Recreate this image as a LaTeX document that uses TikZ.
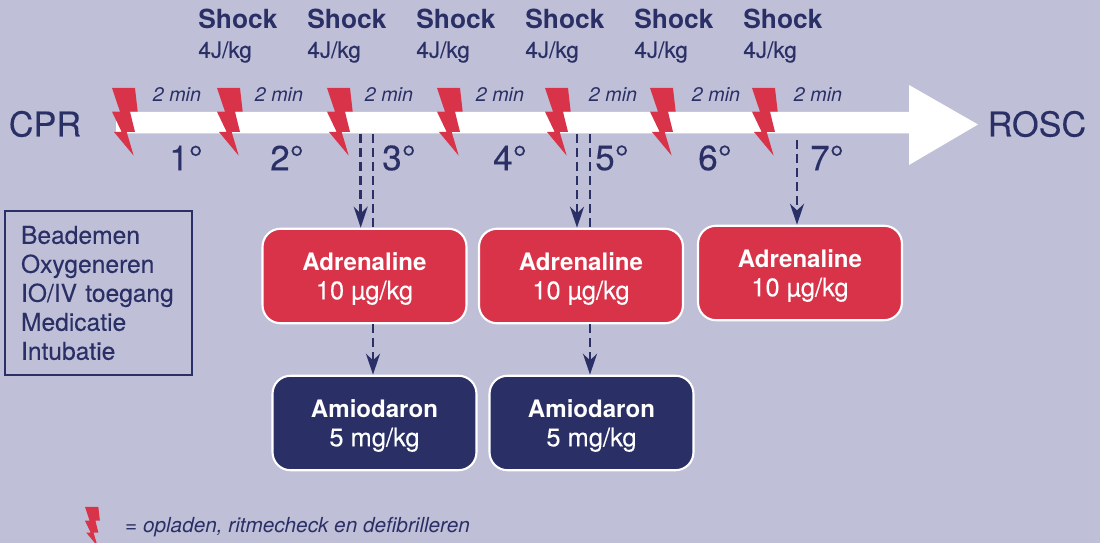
\documentclass[tikz,border=0pt]{standalone}
\usepackage{fontspec}
\setmainfont{TeX Gyre Heros}
\newfontfamily\medfont[FakeBold=0.15]{TeX Gyre Heros}
\usepackage{xcolor}
\usetikzlibrary{arrows.meta}
\definecolor{navy}{HTML}{2A2F66}
\definecolor{boltRed}{HTML}{D93349}
\definecolor{paleBack}{HTML}{BFC0D7}
\newcommand{\doseText}[2]{\rule{0pt}{13.2pt}{\normalfont\fontsize{13.7}{16.5}\selectfont\textbf{#1}}\\#2}

\begin{document}
\begin{tikzpicture}[
        x=0.02cm, y=-0.02cm,
        doseBox/.style={draw=white, line width=1.2pt, rounded corners=0.36cm, text=white, align=center, minimum width=4.08cm, minimum height=1.89cm, font=\fontsize{14.5}{16.5}\selectfont\medfont},
        redBox/.style={doseBox, fill=boltRed},
        navyBox/.style={doseBox, fill=navy},
        shockLabel/.style={text=navy, align=left, font=\fontsize{12.8}{16.5}\selectfont\medfont},
        minLabel/.style={text=navy, font=\fontsize{11.2}{12}\selectfont\itshape},
        roundLabel/.style={text=navy, font=\fontsize{20}{22}\selectfont\medfont},
        endLabel/.style={text=navy, font=\fontsize{19.5}{22}\selectfont\medfont},
        doseLine/.style={draw=navy, line width=1.5pt, dash pattern=on 5pt off 3pt},
        doseArrow/.style={doseLine, -{Stealth[length=12pt, width=8pt]}},
        boltMark/.pic={
            \fill[boltRed] (0,0) -- (23,0) -- (25.7,23.7) -- (18,23.7) -- (23,44) -- (14.7,44) -- (21.7,67.7) -- (2,44) -- (9.7,44) -- (0,23.7) -- (8,23.7) -- cycle;
        }
    ]
        % Achtergrond
        \fill[paleBack] (0,0) rectangle (1100,543);
        \useasboundingbox (0,0) rectangle (1100,543);

        % Tijdlijn
        \fill[white] (116,112) -- (909,112) -- (909,85) -- (978,124.5) -- (909,165) -- (909,133.5) -- (116,133.5) -- cycle;
        \node[endLabel] (cpr) at (45,124) {CPR};
        \node[endLabel] (rosc) at (1037,124) {ROSC};

        \foreach \n/\x in {1/112, 2/217, 3/327, 4/437, 5/545, 6/650, 7/752}
            \pic at (\x,88) {boltMark};

        \foreach \n/\x in {1/238, 2/347, 3/456, 4/565, 5/674, 6/783}
            \node[shockLabel] (shock\n) at (\x,36) {{\normalfont\fontsize{15}{16.5}\selectfont\textbf{Shock}}\\4J/kg};

        \foreach \n/\x in {1/177, 2/279, 3/389, 4/500, 5/613, 6/716, 7/818}
            \node[minLabel] (min\n) at (\x,95) {2 min};

        \foreach \n/\x/\t in {1/186/1, 2/287/2, 3/399/3, 4/510/4, 5/612/5, 6/715/6, 7/827/7}
            \node[roundLabel] (round\n) at (\x,158) {\t°};

        % Handelingen
        \node[draw=navy, line width=1.4pt, text=navy, align=left, minimum width=3.74cm, minimum height=3.28cm, inner xsep=0.32cm, text width=3.1cm, font=\fontsize{14}{16.5}\selectfont\medfont] (tasks) at (98.5,293) {Beademen\\Oxygeneren\\IO/IV toegang\\Medicatie\\Intubatie};

        % Medicatie
        \node[redBox] (adrOne) at (364.5,276) {\doseText{Adrenaline}{10 µg/kg}};
        \node[redBox] (adrTwo) at (581,276) {\doseText{Adrenaline}{10 µg/kg}};
        \node[redBox] (adrThree) at (800,273) {\doseText{Adrenaline}{10 µg/kg}};
        \node[navyBox] (amiOne) at (374.5,423) {\doseText{Amiodaron}{5 mg/kg}};
        \node[navyBox] (amiTwo) at (591.5,423) {\doseText{Amiodaron}{5 mg/kg}};

        \coordinate (startA) at (360.7,134);
        \coordinate (startB) at (373,134);
        \coordinate (startC) at (577,134);
        \coordinate (startD) at (590,134);
        \coordinate (startE) at (797,140);

        \draw[doseArrow] (startA) -- (startA |- adrOne.north);
        \draw[doseLine] (startB) -- (startB |- adrOne.north);
        \draw[doseArrow] (startB |- adrOne.south) -- (startB |- amiOne.north);
        \draw[doseArrow] (startC) -- (startC |- adrTwo.north);
        \draw[doseLine] (startD) -- (startD |- adrTwo.north);
        \draw[doseArrow] (startD |- adrTwo.south) -- (startD |- amiTwo.north);
        \draw[doseArrow] (startE) -- (startE |- adrThree.north);

        % Legenda
        \pic[scale=0.58] at (85,507) {boltMark};
        \node[anchor=west, text=navy, font=\fontsize{11.8}{13}\selectfont\itshape] (legend) at (119,527) {= opladen, ritmecheck en defibrilleren};
    \end{tikzpicture}
\end{document}
